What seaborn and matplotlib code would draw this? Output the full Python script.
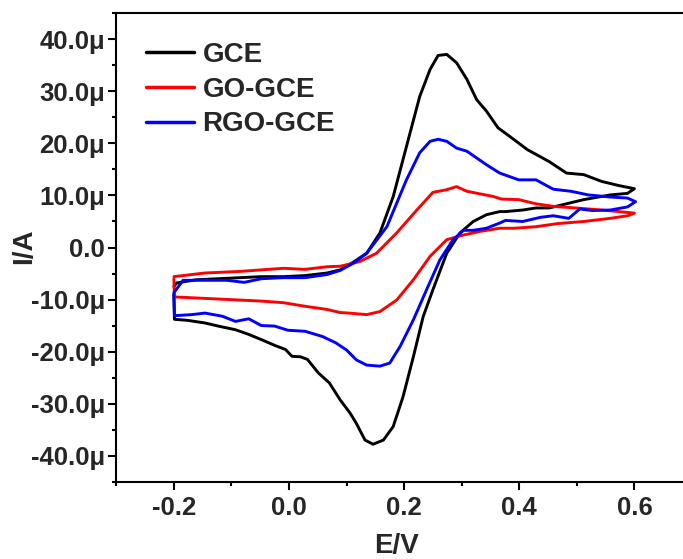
import numpy as np
import pandas as pd
import matplotlib
matplotlib.use("Agg")
import matplotlib.pyplot as plt
import seaborn as sns
from matplotlib.ticker import FuncFormatter, MultipleLocator
from matplotlib.lines import Line2D

# ---- data (E in V, I in microampere) ----
gce_E = [-0.2, -0.195, -0.161, -0.123, -0.086, -0.048, -0.01, 0.028, 0.066, 0.089, 0.112, 0.135,
         0.158, 0.181, 0.204, 0.227, 0.245, 0.259, 0.274, 0.291, 0.309, 0.326, 0.343, 0.363,
         0.384, 0.414, 0.452, 0.482, 0.512, 0.543, 0.573, 0.6,
         0.588, 0.558, 0.512, 0.482, 0.452, 0.429, 0.406, 0.376, 0.366, 0.343, 0.32, 0.297,
         0.274, 0.25, 0.233, 0.216, 0.198, 0.181, 0.164, 0.146, 0.132, 0.117, 0.106, 0.089,
         0.07, 0.051, 0.032, 0.02, 0.005, -0.006, -0.025, -0.048, -0.07, -0.093, -0.123, -0.146,
         -0.176, -0.199, -0.2]
gce_I = [-7.5, -6.8, -6.2, -6.0, -5.8, -5.6, -5.6, -5.4, -4.9, -4.3, -2.8, -1.1,
         2.8, 9.8, 19.4, 29.0, 34.2, 36.9, 37.1, 35.5, 32.3, 28.4, 26.2, 23.0,
         21.3, 18.8, 16.5, 14.3, 14.0, 12.7, 11.9, 11.3,
         10.4, 10.1, 9.2, 8.4, 7.6, 7.6, 7.2, 6.9, 6.9, 6.3, 5.0, 2.8,
         -1.1, -8.1, -13.3, -21.0, -28.7, -34.4, -37.0, -37.8, -37.0, -33.8, -31.8, -29.3,
         -26.0, -24.1, -21.5, -21.0, -20.9, -19.6, -18.8, -17.7, -16.7, -15.8, -15.1, -14.5,
         -14.0, -13.8, -9.0]

go_E = [-0.2, -0.146, -0.086, -0.01, 0.028, 0.066, 0.089, 0.123, 0.152, 0.187, 0.222, 0.25,
        0.274, 0.291, 0.309, 0.332, 0.355, 0.369, 0.399, 0.429, 0.459, 0.497, 0.543, 0.573, 0.6,
        0.588, 0.558, 0.512, 0.467, 0.429, 0.391, 0.366, 0.332, 0.303, 0.274, 0.245, 0.216,
        0.187, 0.158, 0.135, 0.104, 0.089, 0.066, 0.028, -0.01, -0.048, -0.123, -0.199, -0.2]
go_I = [-5.6, -4.9, -4.6, -4.0, -4.2, -3.7, -3.6, -2.7, -1.1, 2.8, 7.2, 10.6,
        11.1, 11.7, 10.8, 10.3, 9.8, 9.3, 9.2, 8.4, 7.9, 7.6, 7.2, 6.9, 6.6,
        6.1, 5.6, 5.0, 4.6, 4.0, 3.7, 3.7, 3.1, 2.4, 1.5, -1.7, -6.2,
        -10.1, -12.3, -12.9, -12.6, -12.5, -11.9, -11.3, -10.6, -10.3, -9.9, -9.5, -6.0]

rgo_E = [-0.2, -0.184, -0.146, -0.108, -0.078, -0.048, -0.01, 0.028, 0.066, 0.089, 0.112, 0.135,
         0.17, 0.204, 0.227, 0.245, 0.259, 0.274, 0.291, 0.309, 0.326, 0.343, 0.366, 0.399,
         0.429, 0.459, 0.49, 0.52, 0.558, 0.588, 0.602,
         0.588, 0.558, 0.527, 0.505, 0.486, 0.459, 0.437, 0.406, 0.376, 0.366, 0.343, 0.32,
         0.303, 0.285, 0.262, 0.239, 0.216, 0.193, 0.175, 0.158, 0.135, 0.117, 0.1, 0.081,
         0.058, 0.028, -0.002, -0.025, -0.048, -0.07, -0.093, -0.116, -0.146, -0.169, -0.199,
         -0.2]
rgo_I = [-8.7, -6.3, -6.3, -6.3, -6.7, -6.0, -5.8, -5.8, -5.2, -4.4, -3.0, -1.1,
         4.0, 13.0, 18.2, 20.4, 20.8, 20.4, 19.1, 18.5, 17.2, 15.9, 14.3, 13.0,
         13.0, 11.2, 10.8, 10.1, 9.7, 9.5, 8.8,
         7.8, 7.2, 7.1, 7.4, 5.6, 6.1, 5.8, 5.0, 5.2, 4.7, 3.7, 3.3,
         3.3, 1.5, -2.4, -8.1, -13.9, -19.0, -22.2, -22.8, -22.6, -21.6, -19.7, -18.3,
         -17.1, -16.1, -15.9, -15.1, -15.0, -13.7, -14.2, -13.2, -12.6, -12.9, -13.1,
         -9.0]

labels = ["GCE", "GO-GCE", "RGO-GCE"]
colors = ["#000000", "#ff0000", "#0000ff"]
x_ticks = [-0.2, 0.0, 0.2, 0.4, 0.6]
y_ticks = [-40, -30, -20, -10, 0, 10, 20, 30, 40]

frames = []
for lab, E, I in zip(labels, [gce_E, go_E, rgo_E], [gce_I, go_I, rgo_I]):
    frames.append(pd.DataFrame({"E": E, "I": I, "electrode": lab}))
df = pd.concat(frames, ignore_index=True)

sns.set_style("ticks")
plt.rcParams["font.family"] = ["Liberation Sans", "DejaVu Sans"]
plt.rcParams["font.weight"] = "bold"

W, H = 683, 559
fig = plt.figure(figsize=(W / 100, H / 100), dpi=100)
ax = fig.add_axes([116.3 / W, (H - 481.7) / H, (692 - 116.3) / W, (481.7 - 13.3) / H])

sns.lineplot(data=df, x="E", y="I", hue="electrode", palette=dict(zip(labels, colors)),
             sort=False, estimator=None, units="electrode", lw=2.1, ax=ax, legend=False)
for ln in ax.get_lines():
    ln.set_solid_joinstyle("round")
    ln.set_solid_capstyle("round")

ax.set_xlim(-0.3, 0.7)
ax.set_ylim(-45, 45)
ax.set_xticks(x_ticks)
ax.set_yticks(y_ticks)
ax.xaxis.set_minor_locator(MultipleLocator(0.1))
ax.yaxis.set_minor_locator(MultipleLocator(5))


def yfmt(v, pos):
    if abs(v) < 1e-9:
        return "0.0"
    return f"{v:.1f}μ".replace("−", "-")


def xfmt(v, pos):
    return f"{v:.1f}".replace("−", "-")


ax.yaxis.set_major_formatter(FuncFormatter(yfmt))
ax.xaxis.set_major_formatter(FuncFormatter(xfmt))

for s in ax.spines.values():
    s.set_linewidth(1.5)
    s.set_color("black")
ax.tick_params(which="major", direction="out", length=6, width=1.5, pad=3, color="black")
ax.tick_params(which="minor", direction="out", length=3, width=1.5, color="black")
ax.tick_params(axis="x", which="major", labelsize=18.5, pad=4)
ax.tick_params(axis="y", which="major", labelsize=18.5, pad=2)
for t in ax.get_xticklabels() + ax.get_yticklabels():
    t.set_fontweight("bold")

ax.set_xlabel("")
ax.set_ylabel("")
fig.text(396 / W, 1 - 533 / H, "E/V", ha="center", va="top", fontsize=20, fontweight="bold")
fig.text(24 / W, 1 - 246 / H, "I/A", ha="center", va="center", rotation=90, fontsize=20,
         fontweight="bold")

handles = [Line2D([], [], color=c, lw=2.5) for c in colors]
leg = ax.legend(handles, labels, loc="upper left", bbox_to_anchor=(146 / W, 1 - 42 / H),
                bbox_transform=fig.transFigure, frameon=False, borderaxespad=0, borderpad=0,
                handlelength=1.73, handletextpad=0.3, labelspacing=0.31,
                prop={"size": 20, "weight": "bold"})

fig.savefig("out.png", dpi=100)
